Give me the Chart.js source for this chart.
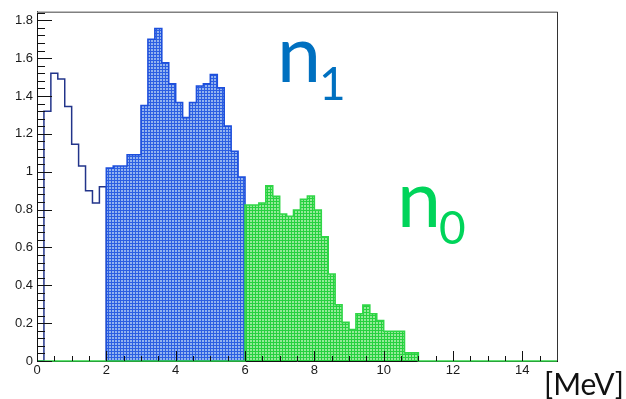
<!DOCTYPE html>
<html>
<head>
<meta charset="utf-8">
<script src="https://cdn.jsdelivr.net/npm/chart.js@4.4.0/dist/chart.umd.min.js"></script>
<style>
  html, body { margin: 0; padding: 0; background: #fff; }
  #wrap { width: 626px; height: 399px; }
</style>
</head>
<body>
<div id="wrap"><canvas id="spec" width="626" height="399"></canvas></div>
<script>
// neutron energy spectrum, 0.2 MeV bins
const BIN = 0.2;
const X_MIN = 0, X_MAX = 15;
const Y_MIN = 0, Y_MAX = 1.845;

// unfilled total below 2 MeV
const lowStart = 0.0;
const lowCounts = [0, 1.32, 1.52, 1.49, 1.345, 1.145, 1.03, 0.90, 0.835, 0.92];

// n1 group, 2 - 6 MeV
const n1Start = 2.0;
const n1Counts = [1.02, 1.03, 1.03, 1.09, 1.09, 1.35, 1.70, 1.757, 1.576, 1.464,
                  1.366, 1.286, 1.366, 1.453, 1.464, 1.513, 1.443, 1.241, 1.108, 0.972];

// n0 group, from 6 MeV
const n0Start = 6.0;
const n0Counts = [0.824, 0.824, 0.835, 0.926, 0.87, 0.777, 0.765, 0.797, 0.855, 0.872,
                  0.797, 0.656, 0.46, 0.297, 0.204, 0.166, 0.25, 0.295, 0.25, 0.214,
                  0.157, 0.157, 0.157, 0.043, 0.043];

const xTickStep = 2, xMinorStep = 0.5;
const yTickStep = 0.2, yMinorStep = 0.04;

function histPoints(start, values, lo, hi) {
  const pts = [];
  if (lo < start) pts.push({x: lo, y: 0});
  pts.push({x: start, y: 0});
  values.forEach((v, i) => pts.push({x: start + i * BIN, y: v}));
  const end = start + values.length * BIN;
  pts.push({x: end, y: 0});
  if (hi > end) pts.push({x: hi, y: 0});
  return pts;
}

// ROOT-like hatch: 3px grid of saturated lines over a pale tint
function gridPattern(line, light) {
  const c = document.createElement('canvas');
  c.width = 3; c.height = 3;
  const g = c.getContext('2d');
  g.fillStyle = light; g.fillRect(0, 0, 3, 3);
  g.fillStyle = line; g.fillRect(0, 0, 3, 1); g.fillRect(0, 0, 1, 3);
  return g.createPattern(c, 'repeat');
}

const frameAndTicks = {
  id: 'frameAndTicks',
  afterDatasetsDraw(chart) {
    const {ctx, chartArea: a, scales: {x, y}} = chart;
    ctx.save();
    ctx.strokeStyle = '#111';
    ctx.lineWidth = 1;
    ctx.beginPath();
    for (let v = Y_MIN; v <= Y_MAX + 1e-9; v += yMinorStep) {
      const major = Math.abs(v / yTickStep - Math.round(v / yTickStep)) < 1e-6;
      const py = Math.round(y.getPixelForValue(v)) + 0.5;
      ctx.moveTo(a.left, py);
      ctx.lineTo(a.left + (major ? 15 : 8), py);
    }
    for (let v = X_MIN; v <= X_MAX + 1e-9; v += xMinorStep) {
      const major = Math.abs(v / xTickStep - Math.round(v / xTickStep)) < 1e-6;
      const px = Math.round(x.getPixelForValue(v)) + 0.5;
      ctx.moveTo(px, a.bottom);
      ctx.lineTo(px, a.bottom - (major ? 10 : 5));
    }
    ctx.stroke();
    // box: grey top, dark right
    ctx.strokeStyle = '#808080';
    ctx.lineWidth = 1.5;
    ctx.beginPath();
    ctx.moveTo(a.left, a.top + 0.5);
    ctx.lineTo(a.right, a.top + 0.5);
    ctx.stroke();
    ctx.strokeStyle = '#333';
    ctx.lineWidth = 1;
    ctx.beginPath();
    ctx.moveTo(a.right + 0.5, a.top);
    ctx.lineTo(a.right + 0.5, a.bottom);
    ctx.stroke();
    ctx.restore();
  }
};

const annotations = {
  id: 'annotations',
  afterDraw(chart) {
    const ctx = chart.ctx;
    ctx.save();
    ctx.textAlign = 'left';
    ctx.textBaseline = 'alphabetic';
    ctx.fillStyle = '#0070c0';
    ctx.font = '79px Lato';
    ctx.fillText('n', 277, 82);
    ctx.font = '46px Lato';
    ctx.fillText('1', 319, 100);
    ctx.fillStyle = '#00d45a';
    ctx.font = '79px Lato';
    ctx.fillText('n', 397, 227);
    ctx.font = '46px Lato';
    ctx.fillText('0', 439, 244);
    ctx.fillStyle = '#111';
    ctx.font = '30px Lato';
    ctx.fillText('[MeV]', 544, 395);
    ctx.restore();
  }
};

const tickFont = {family: '"Liberation Sans", Arial, sans-serif', size: 13};

new Chart(document.getElementById('spec'), {
  type: 'line',
  data: {
    datasets: [
      {
        label: 'n0',
        data: histPoints(n0Start, n0Counts, X_MIN, X_MAX),
        stepped: true,
        borderColor: '#30d647',
        borderWidth: 1.6,
        backgroundColor: gridPattern('#26d13f', '#94ea98'),
        fill: 'origin',
        pointRadius: 0,
        clip: 3,
        order: 0
      },
      {
        label: 'n1',
        data: histPoints(n1Start, n1Counts, n1Start, n1Start + n1Counts.length * BIN),
        stepped: true,
        borderColor: '#1d4fdc',
        borderWidth: 1.6,
        backgroundColor: gridPattern('#2c5fe2', '#93b3ef'),
        fill: 'origin',
        pointRadius: 0,
        order: 1
      },
      {
        label: 'total',
        data: histPoints(lowStart, lowCounts, lowStart, lowStart + lowCounts.length * BIN),
        stepped: true,
        borderColor: '#22348a',
        borderWidth: 1.5,
        fill: false,
        pointRadius: 0,
        order: 2
      }
    ]
  },
  options: {
    responsive: false,
    animation: false,
    devicePixelRatio: 1,
    layout: {padding: {top: 8, right: 69, left: 0, bottom: 0}},
    plugins: {legend: {display: false}, tooltip: {enabled: false}},
    scales: {
      x: {
        type: 'linear',
        min: X_MIN, max: X_MAX,
        grid: {display: false, drawTicks: false},
        border: {display: true, color: '#111', width: 1},
        ticks: {
          stepSize: xTickStep, includeBounds: false, maxRotation: 0, autoSkip: false,
          padding: 2, color: '#1a1a1a', font: tickFont,
          callback: v => String(v)
        },
        afterFit: s => { s.height = 38; }
      },
      y: {
        type: 'linear',
        min: Y_MIN, max: Y_MAX,
        grid: {display: false, drawTicks: false},
        border: {display: true, color: '#111', width: 1},
        ticks: {
          stepSize: yTickStep, includeBounds: false, autoSkip: false,
          padding: 4, color: '#1a1a1a', font: tickFont,
          callback: v => String(Math.round(v * 10) / 10)
        },
        afterFit: s => { s.width = 37; }
      }
    }
  },
  plugins: [frameAndTicks, annotations]
});
</script>
</body>
</html>
